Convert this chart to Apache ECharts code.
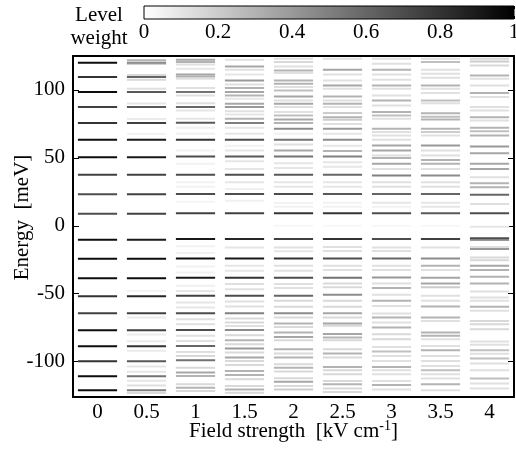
<!DOCTYPE html>
<html><head><meta charset="utf-8">
<script src="https://cdn.jsdelivr.net/npm/echarts@6/dist/echarts.min.js"></script>
<style>html,body{margin:0;padding:0;background:#fff}#c{width:516px;height:452px}</style>
</head><body><div id="c"></div>
<script>
var fieldLabels = ['0','0.5','1','1.5','2','2.5','3','3.5','4'];
var energyTicks = [-100,-50,0,50,100];
var weightTicks = [0,0.2,0.4,0.6,0.8,1];
// [energy meV, level weight]
var f00 = [[120.1,0.95],[109.5,0.8],[98.5,0.95],[87.4,0.75],[75.6,0.8],[63.3,0.95],[50.5,0.95],[37.5,0.75],[23.2,0.7],[8.9,0.7],[-10.3,0.95],[-24.3,0.95],[-38.5,0.95],[-51.8,0.8],[-64.3,0.75],[-76.8,0.95],[-88.6,0.95],[-99.7,0.8],[-110.8,0.95],[-121.1,0.95]];
var f05 = [[121.8,0.3],[120.1,0.45],[119.3,0.25],[111,0.15],[109.5,0.6],[107.6,0.15],[100.9,0.12],[98.5,0.65],[90,0.1],[87.4,0.65],[78.7,0.08],[75.6,0.75],[67.5,0.05],[63.3,0.9],[50.5,0.9],[37.5,0.75],[23.2,0.75],[8.9,0.75],[-10.3,0.9],[-24.3,0.95],[-38.5,0.95],[-48,0.05],[-51.8,0.85],[-64.3,0.75],[-67.5,0.08],[-76.8,0.75],[-80,0.08],[-85,0.08],[-88.6,0.8],[-92,0.08],[-99.7,0.65],[-103.5,0.1],[-107.5,0.1],[-110.8,0.55],[-114,0.1],[-117.5,0.12],[-121.1,0.5],[-123,0.15]];
var f10 = [[122.3,0.35],[120.6,0.3],[118.8,0.12],[115.6,0.1],[111.4,0.35],[110,0.3],[108.3,0.12],[101.4,0.12],[98.5,0.55],[95.9,0.12],[90.3,0.12],[87.4,0.6],[84.9,0.1],[78.8,0.1],[75.8,0.65],[72.1,0.06],[67.7,0.06],[63.3,0.8],[55.4,0.05],[51,0.7],[45.6,0.05],[37.5,0.7],[32.1,0.05],[28.8,0.05],[23.5,0.7],[17.8,0.04],[9.2,0.75],[-9.7,0.9],[-15.1,0.05],[-20,0.05],[-24,0.95],[-29.9,0.05],[-34.3,0.05],[-38.3,0.9],[-44.2,0.06],[-47.9,0.1],[-51.5,0.75],[-56.4,0.1],[-60.1,0.1],[-64.3,0.7],[-68.7,0.12],[-72.4,0.12],[-76.6,0.7],[-81,0.12],[-84.7,0.12],[-88.4,0.6],[-92.8,0.12],[-95.8,0.15],[-99,0.55],[-104.4,0.15],[-108,0.35],[-110.5,0.3],[-116.7,0.15],[-119.1,0.3],[-121.6,0.15]];
var f15 = [[122.3,0.12],[117.3,0.35],[114.9,0.12],[111.4,0.1],[107,0.4],[104,0.12],[101.4,0.3],[98.5,0.35],[95.9,0.3],[93.5,0.1],[89.8,0.35],[87.4,0.4],[84.4,0.12],[81.9,0.1],[78.8,0.3],[75.6,0.5],[72.1,0.1],[67.7,0.1],[63.3,0.7],[59,0.05],[55.4,0.1],[51,0.65],[47.6,0.1],[41.9,0.1],[37.5,0.7],[32.1,0.1],[27.1,0.06],[23.5,0.7],[18.5,0.06],[9.2,0.75],[-9.7,0.85],[-15.9,0.1],[-24,0.9],[-29.4,0.1],[-33.1,0.1],[-38.3,0.8],[-42.9,0.12],[-46.6,0.12],[-51.5,0.7],[-55.7,0.12],[-59.4,0.12],[-64.3,0.5],[-68.2,0.15],[-71.2,0.15],[-73.7,0.12],[-76.6,0.45],[-80.5,0.15],[-84.2,0.3],[-87.2,0.15],[-90.3,0.4],[-93.3,0.15],[-97,0.35],[-99.5,0.15],[-102.4,0.15],[-106.9,0.3],[-109.8,0.3],[-113,0.15],[-117.9,0.15],[-120.4,0.3],[-122.8,0.15]];
var f20 = [[123,0.12],[120.6,0.15],[117.3,0.12],[114.4,0.3],[112.5,0.12],[107,0.3],[104.6,0.3],[102.1,0.12],[99.6,0.25],[95.2,0.35],[92.3,0.12],[89.8,0.35],[87.4,0.12],[83.7,0.12],[81.2,0.25],[78.2,0.35],[75.6,0.3],[71.4,0.45],[67.7,0.06],[63.3,0.55],[59.8,0.12],[55.4,0.35],[51,0.55],[46.1,0.1],[42.6,0.1],[37.5,0.65],[32.1,0.1],[28.8,0.1],[23.5,0.7],[16.8,0.05],[14.1,0.05],[9.2,0.8],[0,0.03],[-9.7,0.75],[-15.9,0.12],[-18.8,0.1],[-24,0.8],[-29.4,0.12],[-33.1,0.12],[-38.3,0.7],[-42.9,0.12],[-45.8,0.12],[-51.5,0.6],[-55.2,0.15],[-59.6,0.15],[-64.3,0.45],[-67.5,0.15],[-71.9,0.3],[-74.4,0.15],[-78.5,0.3],[-81.8,0.35],[-84.2,0.15],[-90.9,0.3],[-94,0.15],[-97,0.3],[-101.9,0.15],[-104.4,0.3],[-107.3,0.15],[-112.2,0.15],[-114.7,0.35],[-117.9,0.15],[-120.4,0.2]];
var f25 = [[123,0.12],[114.9,0.35],[111.4,0.12],[107,0.12],[103.3,0.35],[100.9,0.12],[95.2,0.3],[92.3,0.12],[89.8,0.3],[87.4,0.12],[83,0.2],[80,0.3],[78,0.2],[75,0.12],[71.4,0.4],[67.7,0.1],[63.3,0.45],[59,0.1],[55,0.3],[51,0.5],[46.8,0.1],[43.4,0.1],[37.5,0.6],[32.1,0.1],[28.8,0.1],[23.5,0.65],[17,0.05],[14,0.05],[9.2,0.8],[0,0.03],[-9.7,0.8],[-15.6,0.12],[-18.5,0.12],[-24,0.7],[-29.4,0.12],[-32.6,0.12],[-38.3,0.55],[-42.4,0.15],[-45.3,0.15],[-50.8,0.45],[-55.2,0.15],[-59.6,0.15],[-64.3,0.35],[-67.5,0.15],[-71.9,0.35],[-73.6,0.15],[-79.7,0.35],[-82.2,0.3],[-84.2,0.15],[-90.9,0.15],[-94,0.3],[-97,0.15],[-103.9,0.3],[-106.3,0.15],[-109.3,0.15],[-114.2,0.15],[-116.7,0.3],[-119.8,0.15],[-122.3,0.15]];
var f30 = [[123,0.12],[119.3,0.12],[114.9,0.3],[111.4,0.12],[107.5,0.12],[103.3,0.3],[100.9,0.12],[95.9,0.12],[92.3,0.3],[88.6,0.12],[83.7,0.3],[81.2,0.25],[78.8,0.12],[71.4,0.3],[69,0.12],[66.4,0.12],[63.3,0.12],[59.1,0.35],[55.4,0.35],[51.7,0.12],[50,0.3],[45.6,0.35],[41.9,0.12],[37,0.5],[32.1,0.12],[28.8,0.12],[23.5,0.6],[17,0.1],[14,0.05],[9.2,0.7],[0,0.03],[-9.7,0.7],[-15.9,0.12],[-18.5,0.12],[-24,0.6],[-29.4,0.12],[-32.6,0.12],[-38,0.4],[-42.4,0.12],[-45.8,0.3],[-50.8,0.12],[-55.2,0.3],[-59.1,0.12],[-64.5,0.12],[-67.5,0.3],[-71.2,0.12],[-74.9,0.3],[-79.8,0.15],[-83.5,0.15],[-89.2,0.12],[-92.6,0.25],[-95.8,0.12],[-99.5,0.12],[-103.9,0.3],[-106.3,0.12],[-109.3,0.12],[-114.2,0.12],[-117.2,0.3],[-120.4,0.12]];
var f35 = [[123,0.12],[120.6,0.25],[114.9,0.12],[112,0.12],[109,0.12],[103.3,0.3],[100.9,0.12],[97.7,0.12],[92.3,0.25],[90.3,0.12],[82.8,0.3],[80.3,0.25],[78.3,0.3],[71.4,0.3],[69,0.2],[66.4,0.12],[59.1,0.4],[55.4,0.12],[51.7,0.12],[48.5,0.3],[45.6,0.3],[41.9,0.12],[37,0.45],[32.1,0.12],[28.8,0.12],[23.5,0.6],[17,0.1],[14,0.1],[9.2,0.65],[0,0.03],[-9.7,0.75],[-15.9,0.12],[-24,0.45],[-29.4,0.3],[-32.6,0.12],[-38.3,0.35],[-42.4,0.35],[-45.3,0.2],[-51.5,0.12],[-55.2,0.12],[-59.4,0.3],[-67.5,0.3],[-70,0.12],[-78.5,0.3],[-81,0.3],[-83.5,0.12],[-88.4,0.12],[-91.6,0.3],[-95.8,0.12],[-99.5,0.12],[-103.2,0.12],[-106.3,0.25],[-109.3,0.12],[-112.4,0.12],[-116.7,0.3],[-121.1,0.12]];
var f40 = [[123,0.15],[121,0.2],[118,0.15],[110.7,0.3],[108.3,0.12],[103.3,0.12],[97.7,0.3],[94.8,0.12],[87.4,0.12],[84.9,0.12],[80,0.3],[77.5,0.12],[72.1,0.3],[69.7,0.25],[66.4,0.3],[58.3,0.4],[53.5,0.35],[45.6,0.35],[41.9,0.35],[35.8,0.12],[31.3,0.3],[28.4,0.3],[22.9,0.6],[16.1,0.12],[9.2,0.7],[-0.7,0.1],[-9.2,0.7],[-10.5,0.4],[-15.6,0.12],[-17.1,0.4],[-23.3,0.15],[-25.3,0.15],[-29.4,0.35],[-32.6,0.3],[-37.5,0.3],[-42.4,0.3],[-48.3,0.12],[-52.7,0.12],[-55.2,0.12],[-59.6,0.3],[-62.5,0.12],[-70,0.15],[-72.4,0.15],[-76.1,0.15],[-85.2,0.12],[-87.6,0.12],[-91.6,0.25],[-94.1,0.12],[-97.7,0.25],[-101.4,0.12],[-106.3,0.12],[-112.4,0.25],[-116.1,0.12],[-119.8,0.12]];

var columns = [f00,f05,f10,f15,f20,f25,f30,f35,f40];
var levels = [];
columns.forEach(function(col, i){ col.forEach(function(p){ levels.push([i, p[0], p[1]]); }); });
levels.sort(function(a,b){ return a[2]-b[2]; });

function grayOf(w){ var g = Math.round(255*(1-w)); return 'rgb('+g+','+g+','+g+')'; }

var FONT = 'Liberation Serif';
var FS = 21;
var chart = echarts.init(document.getElementById('c'), null, {renderer:'canvas'});
chart.setOption({
  animation:false,
  backgroundColor:'#fff',
  textStyle:{fontFamily:FONT, color:'#000'},
  graphic:[
    {type:'text', x:99, y:4, style:{text:'Level\nweight', fontFamily:FONT, fontSize:FS, lineHeight:23, fill:'#000', align:'center'}}
  ],
  grid:[
    {left:73, right:2, top:56, bottom:55, containLabel:false, outerBoundsMode:'none'},
    {left:144, right:2, top:6, height:13, containLabel:false, outerBoundsMode:'none'}
  ],
  xAxis:[
    {type:'category', gridIndex:0, data:fieldLabels, boundaryGap:true,
     axisLine:{onZero:false, lineStyle:{color:'#000', width:2}},
     axisTick:{alignWithLabel:true, inside:true, length:9, lineStyle:{color:'#000', width:1}},
     axisLabel:{fontFamily:FONT, fontSize:FS, color:'#000', margin:5},
     name:'Field strength  [kV cm{sup|-1}]', nameLocation:'middle', nameGap:22,
     nameTextStyle:{fontFamily:FONT, fontSize:FS, color:'#000', rich:{sup:{fontFamily:FONT, fontSize:14, color:'#000', padding:[0,0,10,0]}}},
     nameMoveOverlap:false},
    {type:'category', gridIndex:0, position:'top', data:fieldLabels, boundaryGap:true,
     axisLine:{onZero:false, lineStyle:{color:'#000', width:2}},
     axisTick:{alignWithLabel:true, inside:true, length:8, lineStyle:{color:'#000', width:1}},
     axisLabel:{show:false}},
    {type:'value', gridIndex:1, min:0, max:1, interval:0.2,
     axisLine:{show:false, onZero:false},
     axisTick:{inside:true, length:3, lineStyle:{color:'#000'}},
     axisLabel:{fontFamily:FONT, fontSize:FS, color:'#000', margin:3, customValues:weightTicks,
       formatter:function(v){return String(+(+v).toFixed(1));}},
     splitLine:{show:false}},
    {type:'value', gridIndex:1, position:'top', min:0, max:1, interval:0.2,
     axisLine:{show:false, onZero:false},
     axisTick:{inside:true, length:3, lineStyle:{color:'#000'}},
     axisLabel:{show:false}, splitLine:{show:false}}
  ],
  yAxis:[
    {type:'value', gridIndex:0, min:-126, max:125,
     axisLine:{show:true, onZero:false, lineStyle:{color:'#000', width:2}},
     axisTick:{show:true, inside:true, length:6, customValues:energyTicks, lineStyle:{color:'#000'}},
     axisLabel:{fontFamily:FONT, fontSize:FS, color:'#000', margin:8, customValues:energyTicks},
     splitLine:{show:false},
     name:'Energy  [meV]', nameLocation:'middle', nameGap:40, nameMoveOverlap:false,
     nameTextStyle:{fontFamily:FONT, fontSize:FS, color:'#000', padding:[0,0,0,18]}},
    {type:'value', gridIndex:0, position:'right', min:-126, max:125,
     axisLine:{show:true, onZero:false, lineStyle:{color:'#000', width:2}},
     axisTick:{show:true, inside:true, length:6, customValues:energyTicks, lineStyle:{color:'#000'}},
     axisLabel:{show:false}, splitLine:{show:false}},
    {type:'value', gridIndex:1, min:0, max:1, show:false}
  ],
  series:[
    {type:'custom', xAxisIndex:0, yAxisIndex:0, data:levels, clip:true,
     renderItem:function(params, api){
       var c = api.coord([api.value(0), api.value(1)]);
       var bw = api.size([1,0])[0]*0.8;
       return {type:'rect', shape:{x:c[0]-bw/2, y:c[1]-1, width:bw, height:2},
               style:{fill:grayOf(api.value(2))}};
     }},
    {type:'custom', xAxisIndex:2, yAxisIndex:2, data:[[0,0,1,1]], silent:true,
     renderItem:function(params, api){
       var p0 = api.coord([api.value(0), api.value(1)]);
       var p1 = api.coord([api.value(2), api.value(3)]);
       return {type:'rect', shape:{x:p0[0], y:p1[1], width:p1[0]-p0[0], height:p0[1]-p1[1]},
         style:{fill:new echarts.graphic.LinearGradient(0,0,1,0,[{offset:0,color:'#ffffff'},{offset:1,color:'#000000'}]),
                stroke:'#000', lineWidth:1}};
     }}
  ]
});
</script></body></html>
